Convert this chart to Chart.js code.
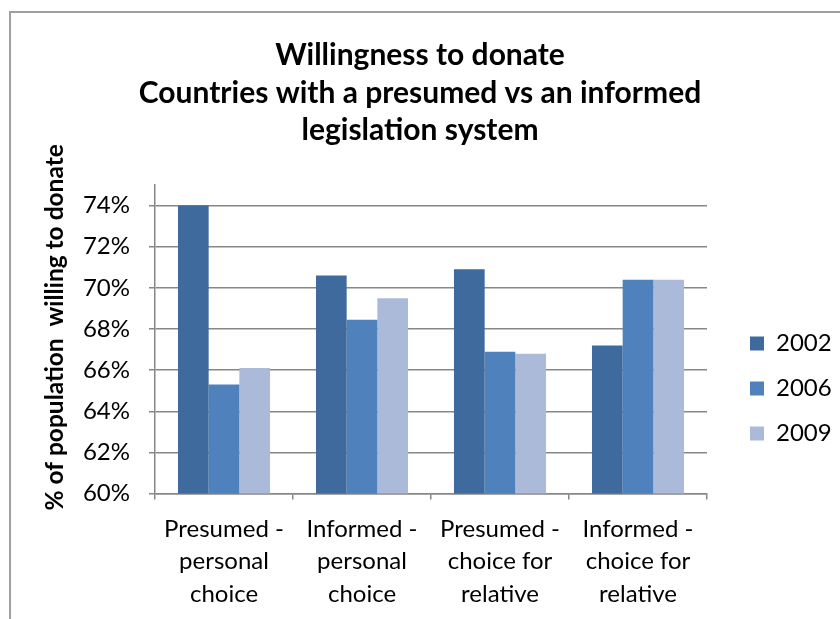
<!DOCTYPE html>
<html>
<head>
<meta charset="utf-8">
<script src="https://cdn.jsdelivr.net/npm/chart.js"></script>
<style>
  body { margin: 0; background: #fff; overflow: hidden; }
  .wrap { position: relative; width: 840px; height: 619px; }
  .frame { position: absolute; left: 9px; top: 11px; width: 1000px; height: 1000px; border: 2px solid #a0a0a0; }
  canvas { position: absolute; left: 0; top: 0; }
</style>
</head>
<body>
<div class="wrap">
  <div class="frame"></div>
  <canvas id="donateChart" width="840" height="619"></canvas>
</div>
<script>
// Willingness to donate chart
const CATEGORIES = [
  ['Presumed -', 'personal', 'choice'],
  ['Informed -', 'personal', 'choice'],
  ['Presumed -', 'choice for', 'relative'],
  ['Informed -', 'choice for', 'relative']
];
const YEARS = ['2002', '2006', '2009'];
const VALUES_2002 = [74.0, 70.6, 70.9, 67.2];
const VALUES_2006 = [65.3, 68.45, 66.9, 70.4];
const VALUES_2009 = [66.1, 69.5, 66.8, 70.4];
const COLORS = ['#3F6A9E', '#4F81BD', '#AABAD8'];
const Y_TICKS = [60, 62, 64, 66, 68, 70, 72, 74];
const Y_MIN = 60;
const Y_MAX = 75;

const GRID = '#878787';
const FONT = 'Lato, "Noto Sans", sans-serif';

// fixed legend width, then nudge it like the Excel one
const legendFix = {
  id: 'legendFix',
  beforeInit(chart) {
    const fit = chart.legend.fit;
    chart.legend.fit = function () {
      fit.call(this);
      this.width = 133;
    };
  },
  afterLayout(chart) {
    chart.legend.left += 22;
    chart.legend.right += 22;
    chart.legend.top += 74;
    chart.legend.bottom += 74;
  }
};

const donateChart = new Chart(document.getElementById('donateChart'), {
  type: 'bar',
  data: {
    labels: CATEGORIES,
    datasets: [
      { label: YEARS[0], data: VALUES_2002, backgroundColor: COLORS[0] },
      { label: YEARS[1], data: VALUES_2006, backgroundColor: COLORS[1] },
      { label: YEARS[2], data: VALUES_2009, backgroundColor: COLORS[2] }
    ]
  },
  options: {
    responsive: false,
    animation: false,
    devicePixelRatio: 1,
    categoryPercentage: 0.667,
    barPercentage: 1.0,
    layout: { padding: { top: 10, left: 0, right: 0, bottom: 0 } },
    plugins: {
      title: {
        display: true,
        text: ['Willingness to donate', 'Countries with a presumed vs an informed', 'legislation system'],
        color: '#000',
        font: { family: FONT, size: 30, weight: 'bold', lineHeight: 1.25 },
        padding: { top: 27, bottom: 35.5 }
      },
      legend: {
        position: 'right',
        labels: {
          color: '#000',
          font: { family: FONT, size: 24 },
          boxWidth: 14,
          boxHeight: 14,
          padding: 21
        }
      },
      tooltip: { enabled: false }
    },
    scales: {
      x: {
        grid: { drawOnChartArea: false, color: GRID, lineWidth: 1.5, tickLength: 6, offset: true },
        border: { color: GRID, width: 1.5 },
        ticks: { color: '#000', font: { family: FONT, size: 24, lineHeight: 1.354 }, padding: 13, maxRotation: 0, autoSkip: false },
        afterFit(scale) { scale.height = 125.4; }
      },
      y: {
        min: Y_MIN,
        max: Y_MAX,
        grid: { color: GRID, lineWidth: 1.5, tickLength: 6 },
        border: { color: GRID, width: 1.5 },
        ticks: {
          color: '#000',
          font: { family: FONT, size: 24 },
          padding: 19,
          callback: v => v + '%'
        },
        afterBuildTicks(scale) {
          scale.ticks = Y_TICKS.map(v => ({ value: v }));
        },
        title: {
          display: true,
          text: '    % of population  willing to donate',
          color: '#000',
          font: { family: FONT, size: 24.5, weight: 'bold' },
          padding: { top: 40, bottom: 0 }
        },
        afterFit(scale) { scale.width = 155; }
      }
    }
  },
  plugins: [legendFix]
});
</script>
</body>
</html>
